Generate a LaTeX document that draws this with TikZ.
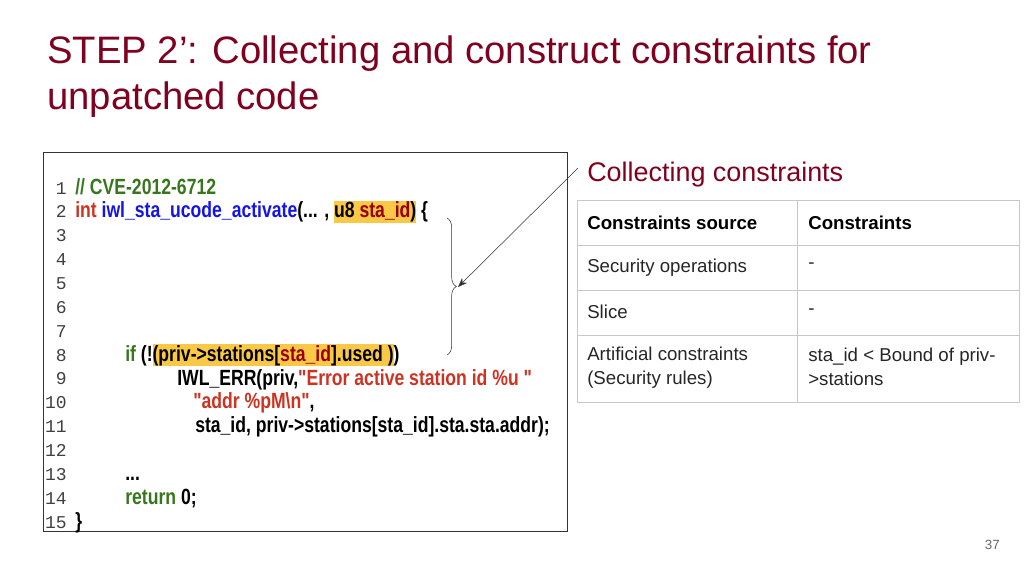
\documentclass[tikz,border=0pt]{standalone}
\usepackage{fontspec}
\setmainfont{Liberation Sans}
\newfontfamily\codefont[FakeStretch=0.8]{Liberation Sans}
\newfontfamily\numfont{Liberation Mono}
\usetikzlibrary{decorations.pathreplacing,arrows.meta}
\definecolor{titlered}{RGB}{128,0,32}
\definecolor{cgreen}{RGB}{56,118,29}
\definecolor{cred}{RGB}{204,51,34}
\definecolor{cdred}{RGB}{153,0,0}
\definecolor{cblue}{RGB}{20,20,230}
\definecolor{hl}{RGB}{249,200,70}
\definecolor{gridc}{RGB}{200,200,200}
\newcommand\hlbox[1]{{\setlength\fboxsep{0pt}\colorbox{hl}{\rule[-0.22em]{0pt}{0.98em}#1}}}
\begin{document}
\begin{tikzpicture}[x=0.75pt,y=-0.75pt,
  code/.style={anchor=base west,inner sep=0pt,font=\codefont\bfseries\fontsize{16.5}{17}\selectfont},
  lnum/.style={anchor=base east,inner sep=0pt,font=\numfont\fontsize{13.5}{15}\selectfont,text=black!75},
  cell/.style={anchor=west,inner sep=0pt,align=left,font=\fontsize{14}{15}\selectfont,text=black!85}]
\useasboundingbox (0,0) rectangle (1024,576);
% title
\node[anchor=base west,inner sep=0pt,text=titlered,font=\fontsize{28.7}{35}\selectfont] (t1) at (47,63) {STEP 2’: Collecting and construct constraints for};
\node[anchor=base west,inner sep=0pt,text=titlered,font=\fontsize{28.7}{35}\selectfont] (t2) at (47,109) {unpatched code};
% code box
\draw[black!80] (43,152) rectangle (567,531);
\foreach \i in {1,...,15}{\node[lnum] (n\i) at (67,{194+(\i-1)*23.86}) {\i};}
\node[code] (c1) at (75,194) {\textcolor{cgreen}{// CVE-2012-6712}};
\node[code] (c2) at (75,217.9) {\textcolor{cred}{int} \textcolor{cblue}{iwl\_sta\_ucode\_activate}(... , \hlbox{u8 \textcolor{cdred}{sta\_id})} \{};
\node[code] (c8) at (125,361.1) {\textcolor{cgreen}{if} (!\hlbox{(priv->stations[\textcolor{cdred}{sta\_id}].used )})};
\node[code] (c9) at (177,385) {IWL\_ERR(priv,\textcolor{cred}{"Error active station id \%u "}};
\node[code] (c10) at (193,408.8) {\textcolor{cred}{"addr \%pM\textbackslash n"},};
\node[code] (c11) at (195,432.7) {sta\_id, priv->stations[sta\_id].sta.sta.addr);};
\node[code] (c13) at (125,480.4) {...};
\node[code] (c14) at (125,504.3) {\textcolor{cgreen}{return} 0;};
\node[code] (c15) at (75,528) {\}};
% brace
\coordinate (bt) at (447,218);
\coordinate (bb) at (447,355);
\draw[black!80,decorate,decoration={brace,amplitude=7pt}] (bt) -- (bb);
\coordinate (btip) at (458,287);
\coordinate (astart) at (578,168);
\draw[black!80,-{Stealth[length=7pt]}] (astart) -- (btip);
% table
\node[anchor=base west,inner sep=0pt,text=titlered,font=\fontsize{20.2}{24}\selectfont] (ct) at (587,181) {Collecting constraints};
\draw[gridc] (577,200) rectangle (1019,402);
\foreach \y in {245,290,335}{\draw[gridc] (577,\y) -- (1019,\y);}
\draw[gridc] (797,200) -- (797,402);
\node[cell,font=\bfseries\fontsize{14}{15}\selectfont,text=black] (h1) at (587,223) {Constraints source};
\node[cell,font=\bfseries\fontsize{14}{15}\selectfont,text=black] (h2) at (808,223) {Constraints};
\node[cell] (r1a) at (587,268) {Security operations};
\node[cell] (r1b) at (808,266) {-};
\node[cell] (r2a) at (587,312) {Slice};
\node[cell] (r2b) at (808,312) {-};
\node[cell,font=\fontsize{14}{18}\selectfont] (r3a) at (587,368) {Artificial constraints\\(Security rules)};
\node[cell,font=\fontsize{14}{18}\selectfont] (r3b) at (808,367) {sta\_id < Bound of priv-\\>stations};
\node[anchor=base east,inner sep=0pt,text=black!60,font=\fontsize{10}{12}\selectfont] (pg) at (1000,549) {37};
\end{tikzpicture}
\end{document}
